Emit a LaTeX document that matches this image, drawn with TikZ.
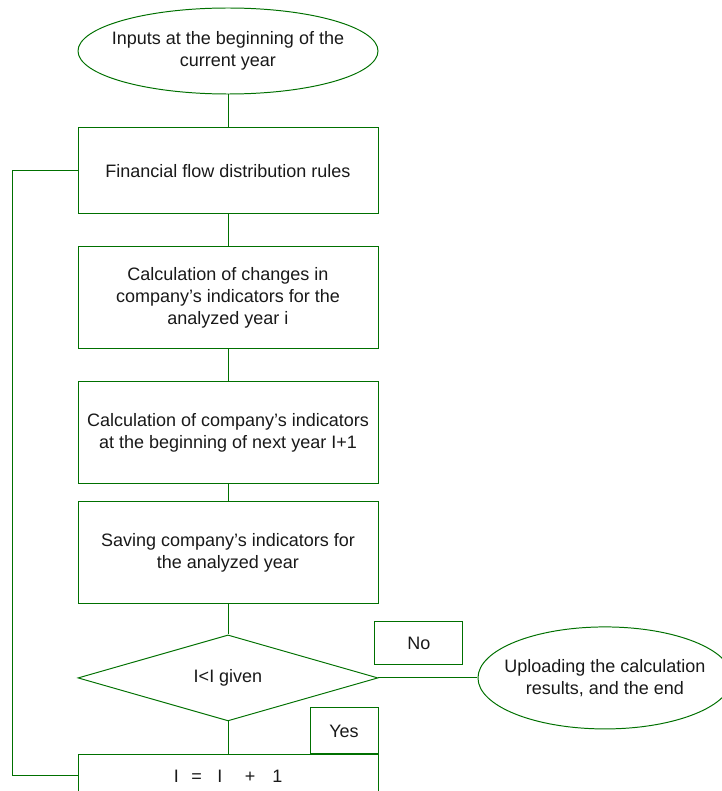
\documentclass[tikz,border=0pt]{standalone}
\usepackage{fontspec}
\setmainfont{Liberation Sans}
\usepackage{xcolor}
\usepackage{tikz}
\usetikzlibrary{shapes.geometric,positioning,calc}

\definecolor{flowgreen}{RGB}{0,112,0}
\newcommand{\flowfont}{\fontsize{12.8}{15.5}\selectfont}

\begin{document}
\begin{tikzpicture}[
  block/.style={draw=flowgreen, line width=0.7pt, minimum width=7.5cm, minimum height=2.55cm, align=center, font=\flowfont, text=black!90},
  term/.style={ellipse, draw=flowgreen, line width=0.7pt, minimum width=7.5cm, minimum height=2.15cm},
  termtxt/.style={align=center, font=\flowfont, text=black!90},
  decide/.style={diamond, draw=flowgreen, line width=0.7pt, minimum width=7.5cm, minimum height=2.15cm, inner sep=0pt, font=\flowfont, text=black!90},
  tag/.style={draw=flowgreen, line width=0.7pt, inner sep=0pt, font=\flowfont, text=black!90},
  link/.style={draw=flowgreen, line width=0.7pt},
  node distance=0.8cm
]
\useasboundingbox (0,0) rectangle (18.05,-19.775);

% Start
\node[term, label={[termtxt]center:{Inputs at the beginning of the\\current year}}] (start) at (5.7,-1.275) {};

% Main column
\node[block, minimum height=2.15cm, below=0.825cm of start] (rules) {Financial flow distribution rules};
\node[block, below=of rules] (changes) {Calculation of changes in\\company’s indicators for the\\analyzed year i};
\node[block, below=of changes] (next) {Calculation of company’s indicators\\at the beginning of next year I+1};
\node[block, below=0.425cm of next] (save) {Saving company’s indicators for\\the analyzed year};

% Decision
\node[decide, below=0.75cm of save] (cond) {I<I given};
\node[block, minimum height=1.05cm, below=0.825cm of cond] (step) {I\hspace{9pt}=\hspace{11pt}I\hspace{16pt}+\hspace{12pt}1};

% End
\node[term, minimum width=6.35cm, minimum height=2.55cm, right=2.475cm of cond,
  label={[termtxt]center:{Uploading the calculation\\results, and the end}}] (finish) {};

% Branch tags
\node[tag, minimum width=2.2cm, minimum height=1.075cm, anchor=south west] (no) at ($(cond.east)+(-0.1,0.325)$) {No};
\node[tag, minimum width=1.7cm, minimum height=1.15cm, anchor=south east] (yes) at (step.north east) {Yes};

\draw[link] (start) -- (rules);
\draw[link] (rules) -- (changes);
\draw[link] (changes) -- (next);
\draw[link] (next) -- (save);
\draw[link] (save) -- (cond);
\draw[link] (cond) -- (step);
\draw[link] (cond) -- (finish);

% Loop back
\draw[link] (step.west) -- ++(-1.625,0) |- (rules.west);

\end{tikzpicture}
\end{document}
